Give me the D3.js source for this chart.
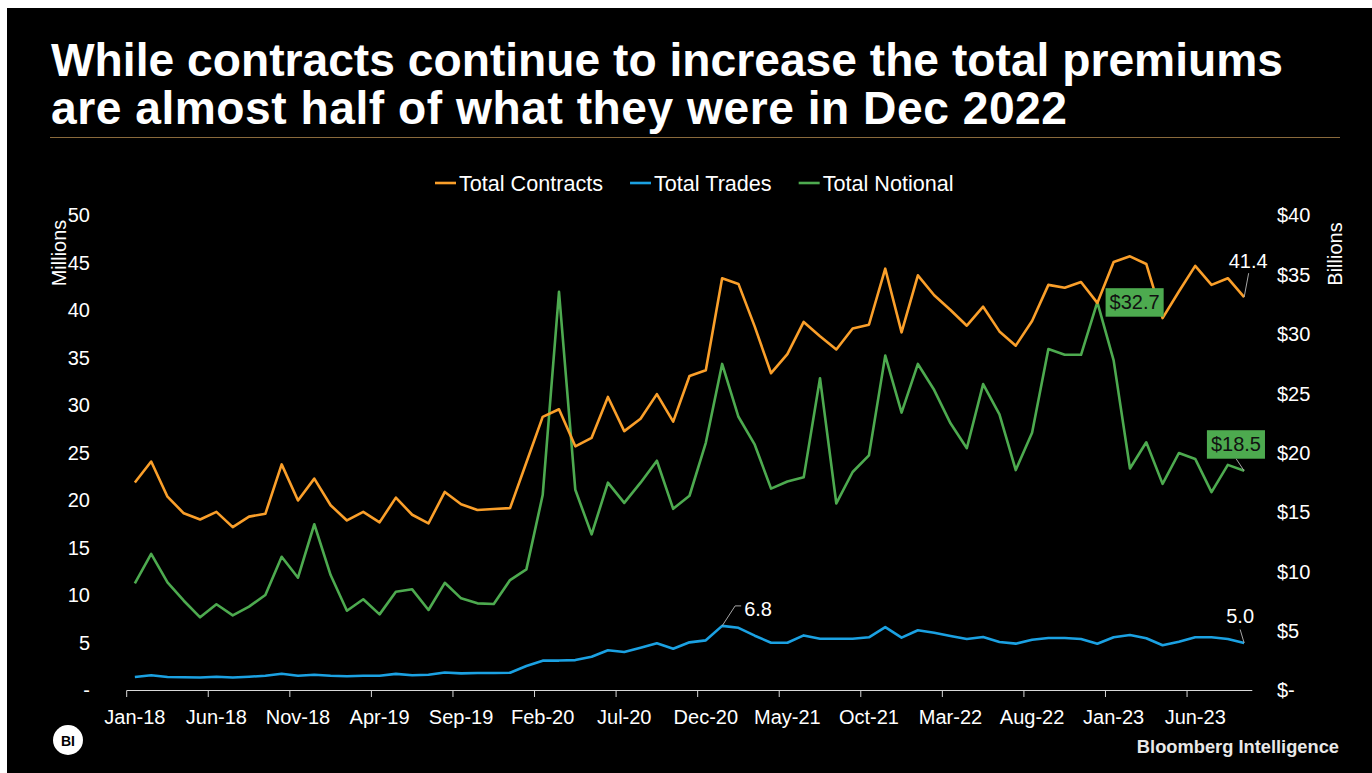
<!DOCTYPE html>
<html><head><meta charset="utf-8">
<script src="https://cdn.jsdelivr.net/npm/d3@7/dist/d3.min.js"></script>
<style>
body{margin:0;background:#fff;}
text{font-family:"Liberation Sans",Arial,sans-serif;}
</style>
</head><body>
<svg id="c" width="1372" height="773"></svg>
<script>
const months = ["Jan-18","Feb-18","Mar-18","Apr-18","May-18","Jun-18","Jul-18","Aug-18","Sep-18","Oct-18","Nov-18","Dec-18",
"Jan-19","Feb-19","Mar-19","Apr-19","May-19","Jun-19","Jul-19","Aug-19","Sep-19","Oct-19","Nov-19","Dec-19",
"Jan-20","Feb-20","Mar-20","Apr-20","May-20","Jun-20","Jul-20","Aug-20","Sep-20","Oct-20","Nov-20","Dec-20",
"Jan-21","Feb-21","Mar-21","Apr-21","May-21","Jun-21","Jul-21","Aug-21","Sep-21","Oct-21","Nov-21","Dec-21",
"Jan-22","Feb-22","Mar-22","Apr-22","May-22","Jun-22","Jul-22","Aug-22","Sep-22","Oct-22","Nov-22","Dec-22",
"Jan-23","Feb-23","Mar-23","Apr-23","May-23","Jun-23","Jul-23","Aug-23","Sep-23"];

// Millions of contracts
const contracts = [21.9,24.1,20.4,18.65,18.0,18.8,17.2,18.3,18.6,23.8,20.0,22.3,
19.5,17.9,18.8,17.7,20.3,18.5,17.6,20.9,19.6,19.0,19.1,19.2,
24.0,28.8,29.6,25.7,26.6,30.9,27.3,28.6,31.2,28.3,33.1,33.7,
43.4,42.8,38.3,33.4,35.4,38.8,37.3,35.9,38.1,38.5,44.4,37.7,
43.7,41.6,40.05,38.4,40.4,37.8,36.3,38.9,42.7,42.4,43.0,40.8,
45.1,45.7,44.9,39.2,42.0,44.7,42.7,43.4,41.4];

// Millions of trades
const trades = [1.42,1.6,1.42,1.4,1.37,1.45,1.37,1.45,1.55,1.77,1.55,1.65,
1.55,1.5,1.55,1.55,1.75,1.6,1.65,1.9,1.8,1.85,1.85,1.87,
2.58,3.14,3.15,3.2,3.56,4.23,4.05,4.5,4.97,4.4,5.07,5.28,
6.8,6.6,5.77,5.03,5.03,5.8,5.45,5.45,5.45,5.6,6.67,5.56,
6.34,6.08,5.74,5.42,5.63,5.1,4.93,5.35,5.53,5.53,5.42,4.93,
5.6,5.84,5.5,4.76,5.14,5.6,5.6,5.42,5.0];

// Billions of notional
const notional = [9.02,11.5,9.1,7.56,6.16,7.26,6.33,7.06,8.04,11.26,9.5,14.0,
9.72,6.72,7.68,6.41,8.32,8.52,6.78,9.07,7.76,7.34,7.28,9.3,
10.2,16.46,33.57,16.9,13.15,17.5,15.8,17.5,19.35,15.3,16.4,20.86,
27.5,23.05,20.7,17.0,17.6,17.95,26.3,15.75,18.4,19.8,28.2,23.4,
27.5,25.3,22.5,20.4,25.8,23.25,18.56,21.7,28.75,28.27,28.27,32.7,
27.8,18.7,20.9,17.4,20.0,19.5,16.7,19.0,18.5];

const leftTicks = [0,5,10,15,20,25,30,35,40,45,50];
const rightTicks = [0,5,10,15,20,25,30,35,40];
const seriesNames = ["Total Contracts","Total Trades","Total Notional"];
const titleLines = ["While contracts continue to increase the total premiums","are almost half of what they were in Dec 2022"];

const colors = {contracts:"#fa9f2a", trades:"#1ba1e2", notional:"#4daa4f"};

const svg = d3.select("#c");
svg.append("rect").attr("x",7).attr("y",8).attr("width",1365).attr("height",765).attr("fill","#000");

// Title
const title = svg.append("g");
const titleWidths = [1232, 1016];
titleLines.forEach((t,i)=>{
  title.append("text").attr("x",51).attr("y",i===0?76:123.5)
    .attr("font-size",46.2).attr("font-weight","bold").attr("fill","#fff")
    .attr("textLength",titleWidths[i]).attr("lengthAdjust","spacing").text(t);
});
svg.append("line").attr("x1",50).attr("x2",1340).attr("y1",137.5).attr("y2",137.5)
  .attr("stroke","#8a6a3c").attr("stroke-width",1.2);

// Scales
const x = d3.scaleBand().domain(months).range([126.7,1252.3]).paddingInner(0).paddingOuter(0);
const yL = d3.scaleLinear().domain([0,50]).range([690.5,215.5]);
const yR = d3.scaleLinear().domain([0,40]).range([690.5,215.5]);
const cx = d => x(d) + x.bandwidth()/2;

// Left axis
const gL = svg.append("g").attr("transform","translate(90,0)")
  .call(d3.axisLeft(yL).tickValues(leftTicks).tickSize(0).tickPadding(0).tickFormat(d=>d===0?"-":d));
gL.select(".domain").remove();
gL.selectAll("text").attr("fill","#fff").attr("font-size",20).attr("font-family","Liberation Sans, Arial, sans-serif");

// Right axis
const gR = svg.append("g").attr("transform","translate(1277,0)")
  .call(d3.axisRight(yR).tickValues(rightTicks).tickSize(0).tickPadding(0).tickFormat(d=>d===0?"$-":"$"+d));
gR.select(".domain").remove();
gR.selectAll("text").attr("fill","#fff").attr("font-size",20).attr("font-family","Liberation Sans, Arial, sans-serif");

// Axis titles
svg.append("text").attr("transform","translate(66,253) rotate(-90)").attr("text-anchor","middle")
  .attr("font-size",20).attr("fill","#fff").text("Millions");
svg.append("text").attr("transform","translate(1342,254) rotate(-90)").attr("text-anchor","middle")
  .attr("font-size",20).attr("fill","#fff").text("Billions");

// Bottom axis
const xLabels = months.filter((d,i)=>i%5===0);
const gB = svg.append("g").attr("transform","translate(0,690.5)")
  .call(d3.axisBottom(x).tickValues(xLabels).tickSize(0).tickPadding(19));
gB.select(".domain").remove();
gB.selectAll("text").attr("fill","#fff").attr("font-size",20).attr("font-family","Liberation Sans, Arial, sans-serif");
svg.append("line").attr("x1",x.range()[0]).attr("x2",x.range()[1]).attr("y1",690.5).attr("y2",690.5)
  .attr("stroke","#d9d9d9").attr("stroke-width",1);
svg.append("g").selectAll("line").data(xLabels).join("line")
  .attr("x1",d=>x(d)).attr("x2",d=>x(d)).attr("y1",690.5).attr("y2",697)
  .attr("stroke","#d9d9d9").attr("stroke-width",1);

// Lines
const lineL = d3.line().x((d,i)=>cx(months[i])).y(d=>yL(d));
const lineR = d3.line().x((d,i)=>cx(months[i])).y(d=>yR(d));
svg.append("path").datum(notional).attr("d",lineR).attr("fill","none").attr("stroke",colors.notional).attr("stroke-width",2.6).attr("stroke-linejoin","round");
svg.append("path").datum(trades).attr("d",lineL).attr("fill","none").attr("stroke",colors.trades).attr("stroke-width",2.6).attr("stroke-linejoin","round");
svg.append("path").datum(contracts).attr("d",lineL).attr("fill","none").attr("stroke",colors.contracts).attr("stroke-width",2.6).attr("stroke-linejoin","round");

// Legend
const leg = svg.append("g");
let lx = 435;
const legColors = [colors.contracts, colors.trades, colors.notional];
seriesNames.forEach((n,i)=>{
  leg.append("line").attr("x1",lx).attr("x2",lx+21).attr("y1",183).attr("y2",183)
    .attr("stroke",legColors[i]).attr("stroke-width",2.6);
  const t = leg.append("text").attr("x",lx+24).attr("y",190.5).attr("font-size",21.6).attr("fill","#fff").text(n);
  lx += 24 + t.node().getComputedTextLength() + 27;
});

// Annotations
const ann = svg.append("g");
function leader(pts){
  ann.append("path").attr("d",d3.line()(pts)).attr("fill","none").attr("stroke","#a6a6a6").attr("stroke-width",1);
}
// 6.8 peak of trades
const iPeak = 36;
const p68 = [cx(months[iPeak]), yL(trades[iPeak])];
leader([p68,[p68[0]+13,p68[1]-20],[p68[0]+19,p68[1]-20]]);
ann.append("text").attr("x",p68[0]+22).attr("y",p68[1]-10).attr("font-size",20).attr("fill","#fff").text(trades[iPeak].toFixed(1));

const last = months.length-1;
// 41.4 contracts last
const pc = [cx(months[last]), yL(contracts[last])];
leader([pc,[pc[0]+4.5,pc[1]-24]]);
ann.append("text").attr("x",pc[0]+4).attr("y",pc[1]-29).attr("text-anchor","middle").attr("font-size",20).attr("fill","#fff").text(contracts[last].toFixed(1));

// 5.0 trades last
const pt = [cx(months[last]), yL(trades[last])];
leader([pt,[pt[0]-4,pt[1]-13.5]]);
ann.append("text").attr("x",pt[0]-4).attr("y",pt[1]-20).attr("text-anchor","middle").attr("font-size",20).attr("fill","#fff").text(trades[last].toFixed(1));

// green boxes
function greenBox(cxp, cyp, label){
  const t = ann.append("text").attr("x",cxp).attr("y",cyp+7).attr("text-anchor","middle")
    .attr("font-size",20).attr("fill","#111").text(label);
  const w = t.node().getComputedTextLength()+8;
  ann.insert("rect","text").attr("x",cxp-w/2).attr("y",cyp-14).attr("width",w).attr("height",28.5).attr("fill",colors.notional);
}
const iDec = 59;
const pd = [cx(months[iDec]), yR(notional[iDec])];
greenBox(pd[0]+37.3, pd[1], "$"+notional[iDec].toFixed(1));
const pn = [cx(months[last]), yR(notional[last])];
leader([pn,[pn[0]-8,pn[1]-12]]);
greenBox(pn[0]-8.2, pn[1]-26.6, "$"+notional[last].toFixed(1));

// Footer
svg.append("circle").attr("cx",68).attr("cy",740).attr("r",15).attr("fill","#fff");
svg.append("text").attr("x",68).attr("y",745.5).attr("text-anchor","middle").attr("font-size",14)
  .attr("font-weight","bold").attr("font-family","Liberation Serif, serif").attr("fill","#000").text("BI");
svg.append("text").attr("x",1339).attr("y",753).attr("text-anchor","end").attr("font-size",18.3)
  .attr("font-weight","bold").attr("fill","#e8e8e8").text("Bloomberg Intelligence");
</script>
</body></html>
